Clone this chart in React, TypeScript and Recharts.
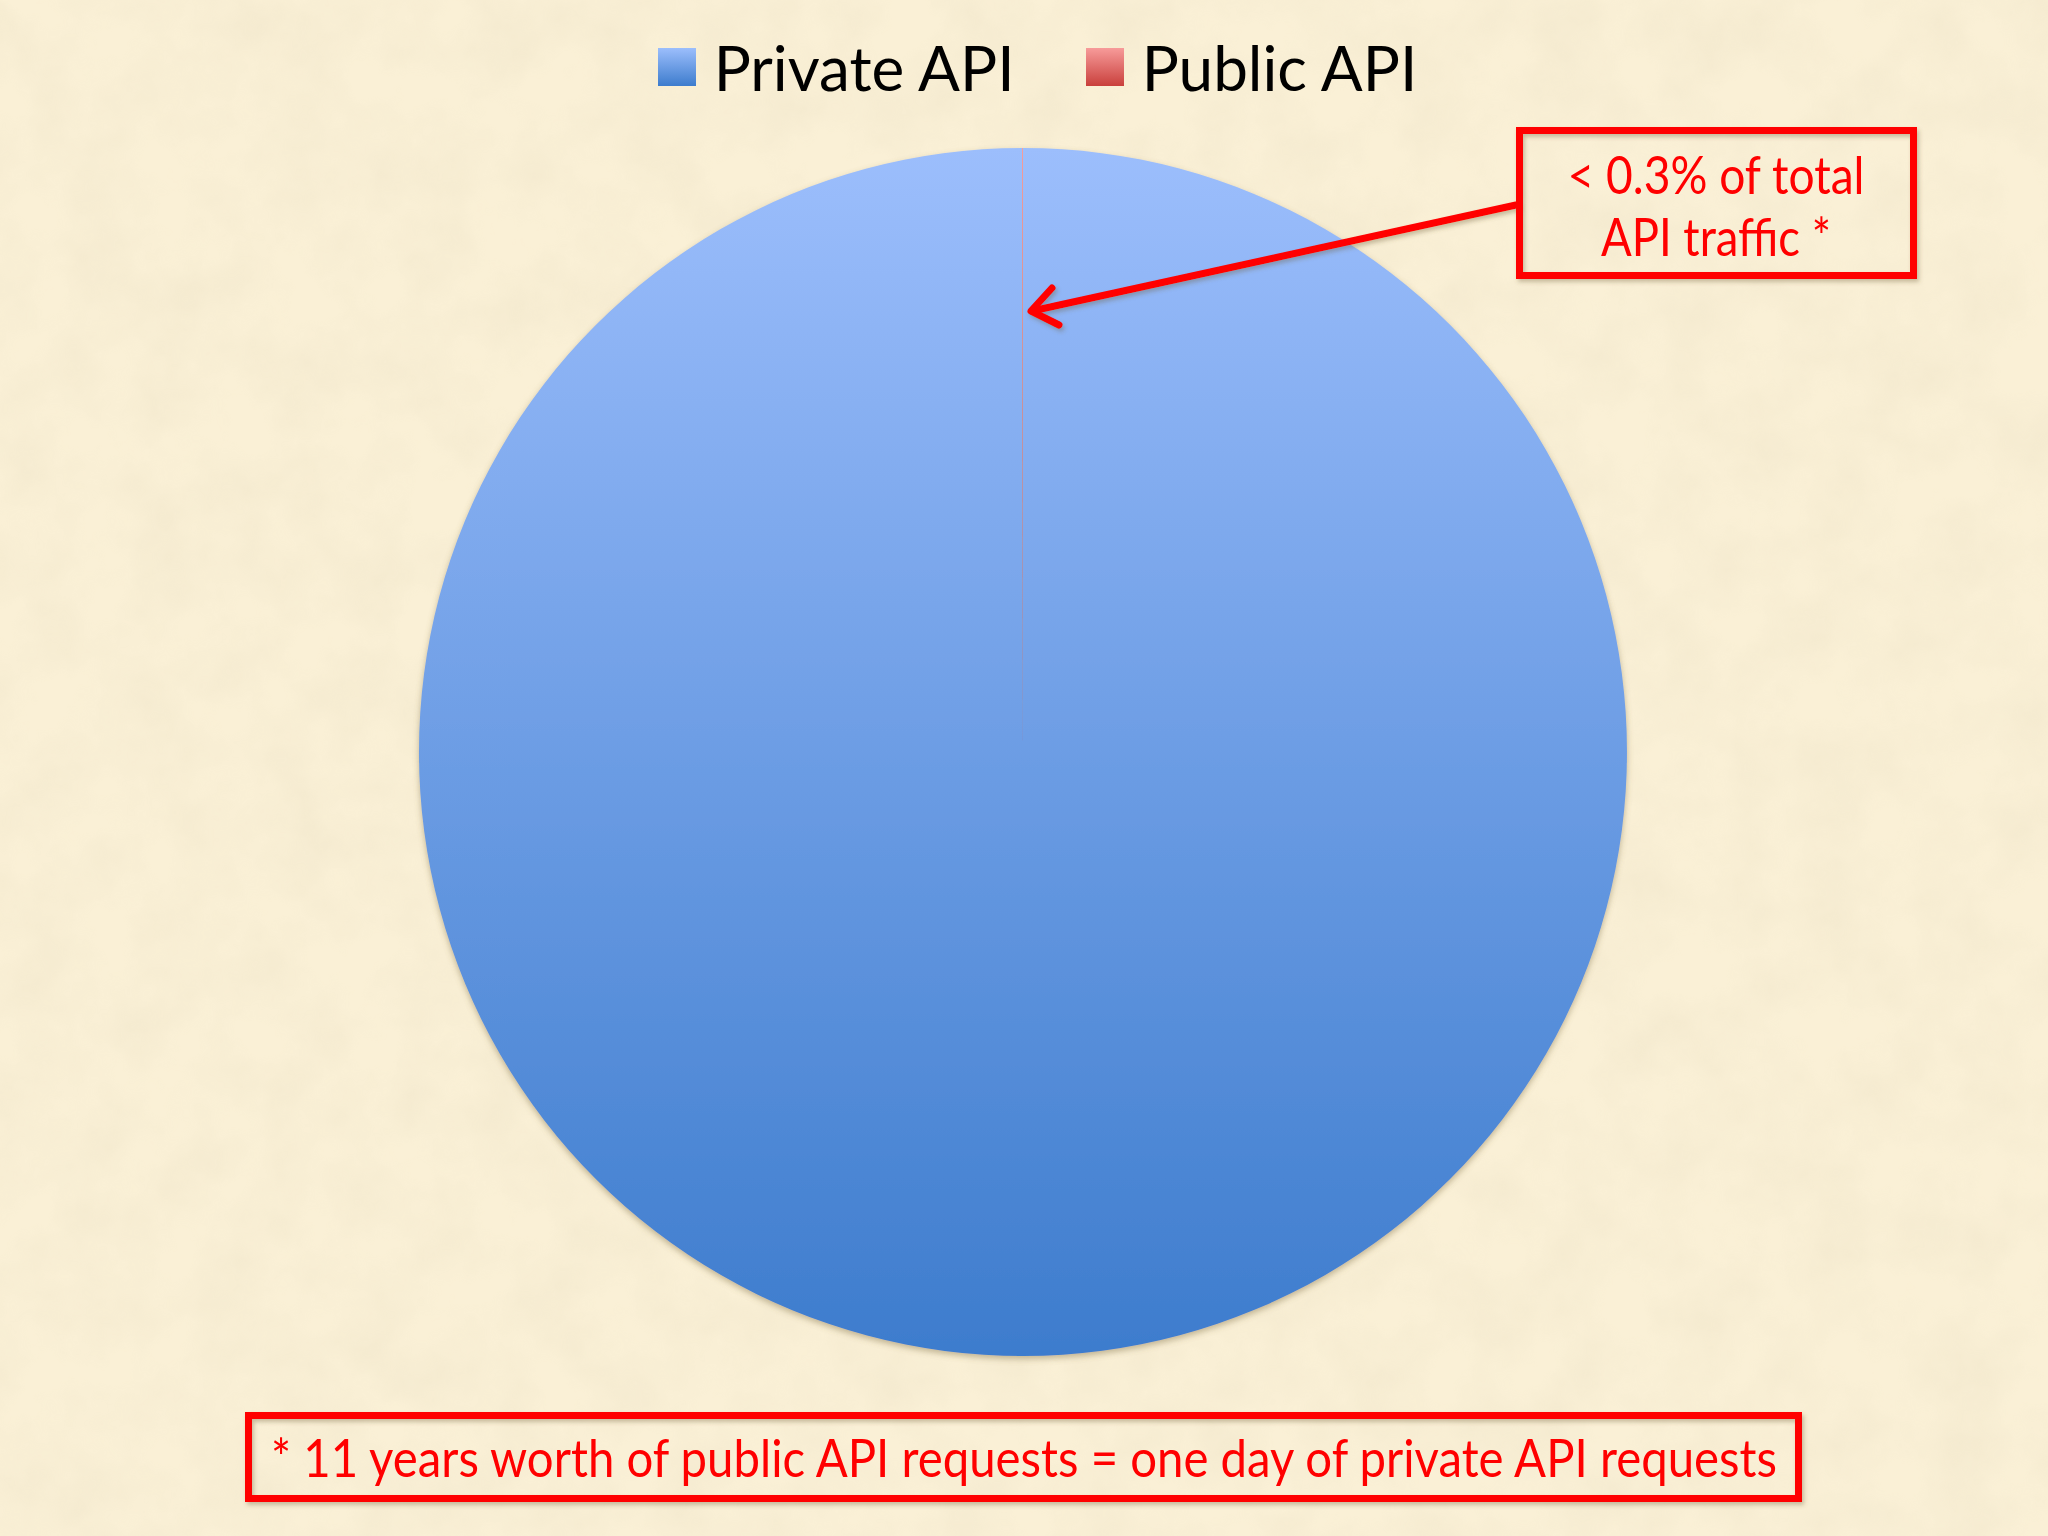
import React from 'react';
import { PieChart, Pie, Cell, Legend } from 'recharts';

const categories = ['Private API', 'Public API'];
const shares = [99.975, 0.025];
const calloutLines = ['< 0.3% of total', 'API traffic *'];
const footnote = '* 11 years worth of public API requests = one day of private API requests';

const chartData = categories.map((name, i) => ({ name, value: shares[i] }));

const gradients = [
  { id: 'gradPrivate', top: '#9cbefc', bottom: '#3d7ccd' },
  { id: 'gradPublic', top: '#f79b9a', bottom: '#c9403c' },
];

const renderLegend = (props: any) => {
  const { payload } = props;
  return (
    <div style={{ display: 'flex', justifyContent: 'center', alignItems: 'center', gap: 71, paddingLeft: 27, height: 134 }}>
      {payload.map((entry: any, i: number) => (
        <div key={entry.value} style={{ display: 'flex', alignItems: 'center', gap: 18 }}>
          <span
            style={{
              width: 38,
              height: 38,
              display: 'inline-block',
              background: `linear-gradient(${gradients[i].top}, ${gradients[i].bottom})`,
            }}
          />
          <span style={{ fontFamily: 'Lato', fontSize: 62, color: '#000', lineHeight: 1 }}>{entry.value}</span>
        </div>
      ))}
    </div>
  );
};

const App: React.FC = () => {
  return (
    <div style={{ position: 'absolute', left: 0, top: 0, width: 2048, height: 1536, background: '#faf0d6', overflow: 'hidden' }}>
      {/* parchment texture */}
      <svg width={2048} height={1536} style={{ position: 'absolute', left: 0, top: 0 }}>
        <filter id="paper">
          <feTurbulence type="fractalNoise" baseFrequency="0.015" numOctaves={4} seed={7} />
          <feColorMatrix type="matrix" values="0 0 0 0 0.82  0 0 0 0 0.74  0 0 0 0 0.55  0 0 0 -1.4 0.95" />
        </filter>
        <rect width={2048} height={1536} filter="url(#paper)" opacity={0.4} />
      </svg>

      <div style={{ position: 'absolute', left: 0, top: 0 }}>
        <PieChart width={2048} height={1536} margin={{ top: 0, right: 0, bottom: 0, left: 0 }}>
          <defs>
            {gradients.map((g) => (
              <linearGradient key={g.id} id={g.id} x1="0" y1="0" x2="0" y2="1">
                <stop offset="0%" stopColor={g.top} />
                <stop offset="100%" stopColor={g.bottom} />
              </linearGradient>
            ))}
            <filter id="pieShadow" x="-5%" y="-5%" width="110%" height="110%">
              <feDropShadow dx={0} dy={3} stdDeviation={3} floodColor="#7a6a40" floodOpacity={0.45} />
            </filter>
          </defs>
          <Legend
            verticalAlign="middle"
            layout="horizontal"
            content={renderLegend}
            wrapperStyle={{ top: 0, left: 0, width: 2048 }}
          />
          <Pie
            data={chartData}
            dataKey="value"
            nameKey="name"
            cx={1023}
            cy={752}
            outerRadius={604}
            startAngle={90}
            endAngle={-270}
            stroke="none"
            isAnimationActive={false}
            legendType="square"
          >
            {chartData.map((d, i) => (
              <Cell key={d.name} fill={`url(#${gradients[i].id})`} filter={i === 0 ? 'url(#pieShadow)' : undefined} />
            ))}
          </Pie>
        </PieChart>
      </div>

      {/* annotations */}
      <svg width={2048} height={1536} style={{ position: 'absolute', left: 0, top: 0, pointerEvents: 'none' }}>
        <defs>
          <filter id="annShadow" x="-10%" y="-10%" width="120%" height="140%">
            <feDropShadow dx={2} dy={3} stdDeviation={2} floodColor="#6b5a30" floodOpacity={0.35} />
          </filter>
        </defs>
        <g filter="url(#annShadow)" stroke="#ff0000" strokeWidth={7} fill="none" strokeLinecap="round" strokeLinejoin="round">
          <line x1={1516} y1={205} x2={1032} y2={311} />
          <polyline points="1059,325 1031,311 1052,288" />
        </g>
        <rect x={1519.5} y={130.5} width={394} height={145} fill="none" stroke="#ff0000" strokeWidth={7} filter="url(#annShadow)" />
        {calloutLines.map((line, i) => (
          <text
            key={line}
            x={1716}
            y={194 + i * 62}
            textAnchor="middle"
            fontFamily="Lato"
            fontSize={53}
            fill="#ff0000"
            textLength={i === 0 ? 297 : 230}
            lengthAdjust="spacingAndGlyphs"
          >
            {line}
          </text>
        ))}
        <rect x={248.5} y={1415.5} width={1550} height={83} fill="none" stroke="#ff0000" strokeWidth={7} filter="url(#annShadow)" />
        <text
          x={1024}
          y={1477}
          textAnchor="middle"
          fontFamily="Lato"
          fontSize={53}
          fill="#ff0000"
          textLength={1506}
          lengthAdjust="spacingAndGlyphs"
        >
          {footnote}
        </text>
      </svg>
    </div>
  );
};

export default App;
